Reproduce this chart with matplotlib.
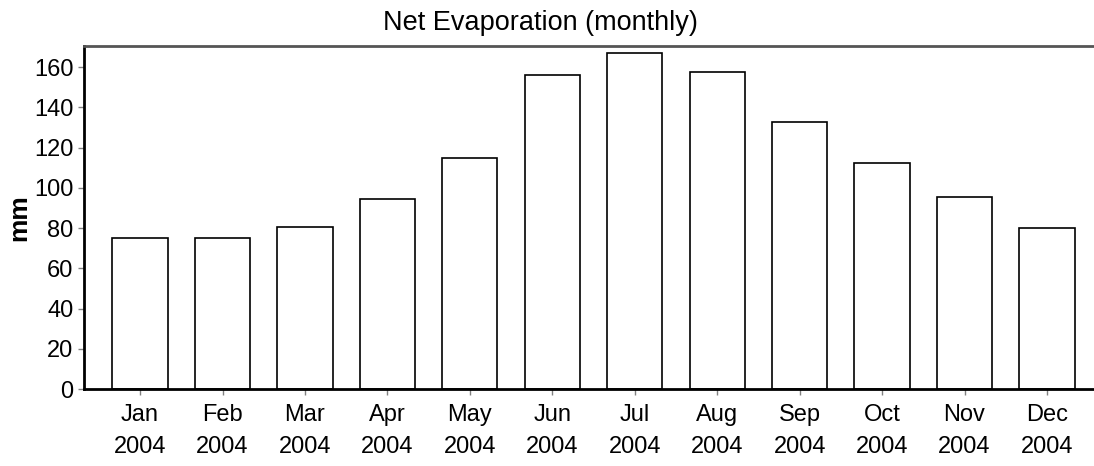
import matplotlib
matplotlib.use('Agg')
import matplotlib.pyplot as plt
import numpy as np

plt.rcParams['font.family'] = ['Liberation Sans', 'DejaVu Sans']

months = ['Jan', 'Feb', 'Mar', 'Apr', 'May', 'Jun', 'Jul', 'Aug', 'Sep', 'Oct', 'Nov', 'Dec']
year = '2004'
evap_mm = [75.0, 75.0, 80.3, 94.6, 115.0, 155.8, 166.8, 157.5, 132.7, 112.1, 95.2, 79.8]
yticks = [0, 20, 40, 60, 80, 100, 120, 140, 160]

fig = plt.figure(figsize=(10.94, 4.66), dpi=100)
ax = fig.add_axes([0.0768, 0.165, 0.9232, 0.737])

x = np.arange(len(months))
ax.bar(x, evap_mm, width=0.67, color='white', edgecolor='black', linewidth=1.2)

ax.set_xlim(-0.68, 11.57)
ax.set_ylim(0, 170.6)
ax.set_xticks(x)
ax.set_xticklabels([m + '\n' + year for m in months], fontsize=17, linespacing=1.6)
ax.set_yticks(yticks)
ax.tick_params(axis='y', labelsize=17, length=4, width=1, color='grey', pad=3.5)
ax.tick_params(axis='x', length=4, width=1, color='grey', pad=6.5)

ax.spines['right'].set_visible(False)
ax.spines['left'].set_linewidth(2)
ax.spines['bottom'].set_linewidth(2)
ax.spines['top'].set_linewidth(2)
ax.spines['top'].set_color('#555555')

# y 轴标签和标题
fig.text(19 / 1094, 0.534, 'mm', rotation=90, ha='center', va='center',
         fontsize=19, fontweight='bold')
fig.text(540 / 1094, 0.950, 'Net Evaporation (monthly)', ha='center', va='center',
         fontsize=19.5)

fig.savefig('out.png', dpi=100)
